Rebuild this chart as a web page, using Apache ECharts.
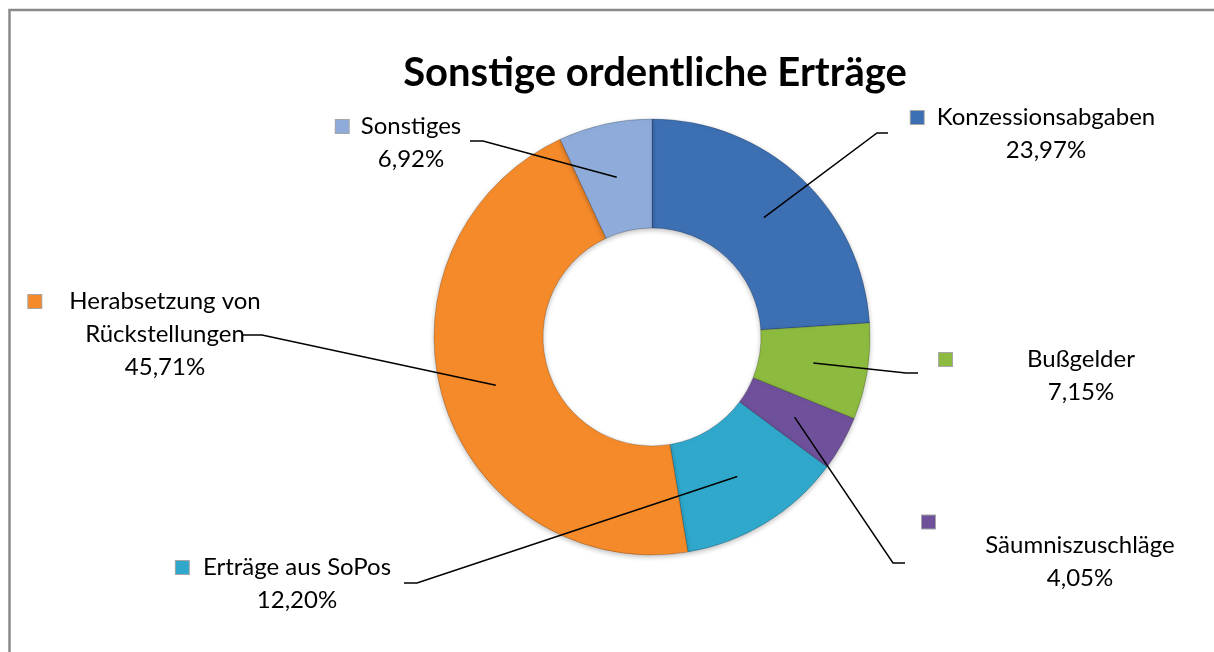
<!DOCTYPE html>
<html>
<head>
<meta charset="utf-8">
<title>Sonstige ordentliche Erträge</title>
<script src="https://cdn.jsdelivr.net/npm/echarts@6/dist/echarts.min.js"></script>
<style>
  html, body { margin: 0; padding: 0; background: #fff; }
  #chart { width: 1214px; height: 652px; }
</style>
</head>
<body>
<div id="chart"></div>
<script>
// Anteile in Prozent, im Uhrzeigersinn ab 12 Uhr
const categories = ['Konzessionsabgaben', 'Bußgelder', 'Säumniszuschläge', 'Erträge aus SoPos', 'Herabsetzung von Rückstellungen', 'Sonstiges'];
const shares = [23.97, 7.15, 4.05, 12.20, 45.71, 6.92];
const colors = ['#3d6fb3', '#8dbb3f', '#6f509b', '#30a8cc', '#f58a2b', '#8eabd9'];

const titleText = 'Sonstige ordentliche Erträge';

// Lage der Beschriftungen (Mitte x, Oberkante y) und Knick/Ende der Führungslinien
const labelPlaces = [
  { x: 1046, y: 101, gap: 13, elbow: [877, 133], end: [888, 133] },
  { x: 1081, y: 343, gap: 75, elbow: [906, 373], end: [918, 373] },
  { x: 1080, y: 515, ownLine: true, markerLeft: 922, elbow: [893, 563], end: [905, 563] },
  { x: 297, y: 551, gap: 14, elbow: [417, 583], end: [404, 583] },
  { x: 165, y: 285, gap: 28, elbow: [262, 335], end: [243, 335] },
  { x: 411, y: 110, gap: 12, elbow: [483, 141], end: [470, 141] }
];

const center = [652, 337];
const radius = [109, 218];
// Führungslinien beginnen in der Mitte des Rings
const midRadius = (radius[0] + radius[1]) / 2;

const rich = {};
colors.forEach((c, i) => {
  const pl = labelPlaces[i];
  rich['m' + i] = {
    width: 13, height: 13, backgroundColor: c,
    borderColor: 'rgba(0,0,0,0.35)', borderWidth: 1
  };
  if (pl.ownLine) {
    rich['m' + i].lineHeight = 14;
    rich['g' + i] = { width: 2 * (pl.x - pl.markerLeft) - 13, lineHeight: 14 };
  } else {
    rich['g' + i] = { width: pl.gap };
    rich['p' + i] = { width: 13 + pl.gap };
  }
});

function labelText(p) {
  const i = p.dataIndex;
  const pl = labelPlaces[i];
  const pct = p.value.toFixed(2).replace('.', ',') + '%';
  const lines = p.name.replace(' von ', ' von\n').split('\n');
  if (pl.ownLine) {
    return '{m' + i + '|}{g' + i + '|}\n' + lines.join('\n') + '\n' + pct;
  }
  lines[0] = '{m' + i + '|}{g' + i + '|}' + lines[0] + '{p' + i + '|}';
  return lines.join('\n') + '\n' + pct;
}

const chart = echarts.init(document.getElementById('chart'));
chart.setOption({
  animation: false,
  backgroundColor: '#fff',
  graphic: [
    {
      type: 'rect', silent: true,
      shape: { x: 9.5, y: 10, width: 1300, height: 700 },
      style: { fill: 'none', stroke: '#8a8a8a', lineWidth: 2.5 }
    },
    {
      type: 'text', silent: true, x: 20, y: -15,
      style: { text: titleText, font: 'bold 26px Lato', fill: '#000', textVerticalAlign: 'middle' }
    },
    {
      type: 'text', silent: true, x: 655, y: 73,
      style: { text: titleText, font: 'bold 40px Lato', fill: '#000', textAlign: 'center', textVerticalAlign: 'middle' }
    }
  ],
  series: [
    {
      // sichtbarer Ring
      type: 'pie',
      center: center,
      radius: radius,
      startAngle: 90,
      clockwise: true,
      silent: true,
      emphasis: { disabled: true },
      data: categories.map((name, i) => ({ name: name, value: shares[i], itemStyle: { color: colors[i] } })),
      itemStyle: {
        borderColor: 'rgba(0,0,0,0.2)', borderWidth: 1,
        shadowBlur: 5, shadowColor: 'rgba(0,0,0,0.25)', shadowOffsetY: 2
      },
      label: { show: false },
      labelLine: { show: false }
    },
    {
      // unsichtbare Kopie nur für Beschriftungen und Führungslinien (liegt oben)
      type: 'pie',
      z: 3,
      center: center,
      radius: [0, midRadius],
      startAngle: 90,
      clockwise: true,
      silent: true,
      avoidLabelOverlap: false,
      emphasis: { disabled: true },
      data: categories.map((name, i) => ({ name: name, value: shares[i] })),
      itemStyle: { color: 'rgba(0,0,0,0)', borderWidth: 0 },
      label: {
        show: true,
        position: 'outside',
        formatter: labelText,
        rich: rich,
        color: '#000',
        fontFamily: 'Lato',
        fontSize: 24,
        lineHeight: 33
      },
      labelLine: { show: true, length: 20, length2: 20, lineStyle: { color: '#000', width: 1.5 } },
      labelLayout: function (p) {
        const pl = labelPlaces[p.dataIndex];
        return {
          x: pl.x, y: pl.y, align: 'center', verticalAlign: 'top',
          labelLinePoints: [p.labelLinePoints[0], pl.elbow, pl.end]
        };
      }
    }
  ]
});
</script>
</body>
</html>
